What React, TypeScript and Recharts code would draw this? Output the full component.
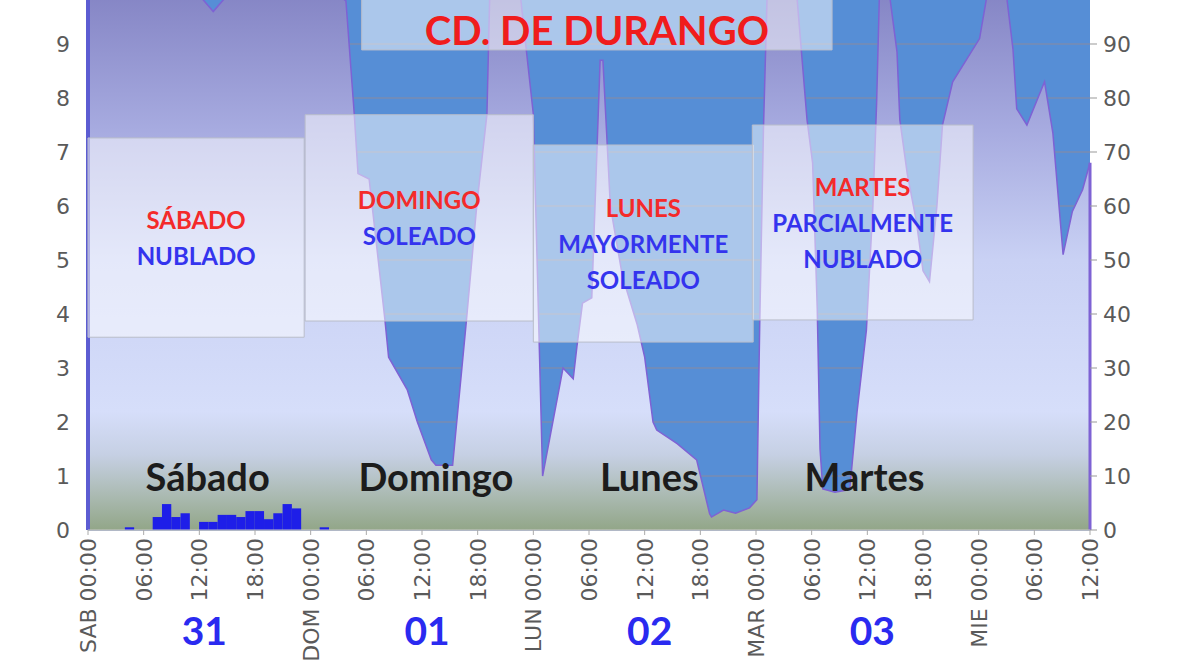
import React from 'react';
import {
  ComposedChart,
  Area,
  Bar,
  XAxis,
  YAxis,
  CartesianGrid,
  ReferenceArea,
  ReferenceDot,
  ReferenceLine,
} from 'recharts';

// Hours since Saturday 00:00
const humidityHours = [
  0, 3, 6, 9, 12, 13.5, 15, 18, 21, 24, 27, 27.8, 28.7, 29.1, 30.3, 32.0, 32.4, 34.4, 35.5, 37.0,
  37.5, 39.3, 40.8, 41.9, 43.0, 43.3, 46.6, 48.0, 49.0, 51.2, 52.3, 52.7, 53.3, 54.3, 55.2, 55.5,
  56.3, 57.6, 59.2, 60.0, 60.9, 61.3, 63.5, 65.6, 67.0, 67.2, 68.5, 69.8, 71.3, 72.1, 72.4, 72.8,
  73.2, 76.4, 77.5, 78.1, 78.6, 78.9, 79.2, 80.5, 82.1, 82.9, 83.9, 84.6, 85.0, 85.3, 86.4, 87.2,
  87.5, 88.3, 89.3, 90.0, 90.7, 91.5, 92.1, 93.2, 96.1, 96.9, 99.0, 99.7, 100.1, 101.2, 103.1,
  104.0, 105.1, 106.1, 107.2, 108,
];
// Relative humidity (%)
const humidityValues = [
  100, 100, 100, 100, 99, 96, 99, 100, 100, 100, 99, 98, 77, 66, 65, 39, 32, 26, 20, 13,
  12, 12, 39, 60, 77, 99, 99, 77, 10, 30, 28, 34, 42, 43, 87, 87,
  60, 47, 38, 32, 20, 18.5, 16, 13, 3, 2.4, 3.7, 3.1, 4.1, 5.6, 38, 74,
  99, 99, 76, 68, 41, 15, 7.6, 7, 7.5, 22, 37, 60, 79, 99, 99, 88.5,
  76, 66, 57, 48, 46, 60, 75, 83, 91, 99, 99, 89, 78, 75, 83,
  73.5, 51, 59, 63, 68,
];

// Precipitation (mm)
const precipHours = [4.5, 7.5, 8.5, 9.5, 10.5, 12.5, 13.5, 14.5, 15.5, 16.5, 17.5, 18.5, 19.5, 20.5, 21.5, 22.5, 25.5];
const precipValues = [0.05, 0.24, 0.48, 0.24, 0.31, 0.15, 0.15, 0.28, 0.28, 0.24, 0.35, 0.35, 0.2, 0.31, 0.48, 0.4, 0.05];

const tickHours = [0, 6, 12, 18, 24, 30, 36, 42, 48, 54, 60, 66, 72, 78, 84, 90, 96, 102, 108];
const dayAbbr = ['SAB', 'DOM', 'LUN', 'MAR', 'MIE'];
const dateLabels = ['31', '01', '02', '03'];
const leftTicks = [0, 1, 2, 3, 4, 5, 6, 7, 8, 9, 10];
const rightTicks = [0, 10, 20, 30, 40, 50, 60, 70, 80, 90, 100];

const dayNames = ['Sábado', 'Domingo', 'Lunes', 'Martes'];
const dayNameHours = [12.9, 37.5, 60.5, 83.7];
const dayNameLevel = 10;

const forecastDays = ['SÁBADO', 'DOMINGO', 'LUNES', 'MARTES'];
const forecastSky = [['NUBLADO'], ['SOLEADO'], ['MAYORMENTE', 'SOLEADO'], ['PARCIALMENTE', 'NUBLADO']];
const boxStartHours = [0, 23.4, 48, 71.6];
const boxEndHours = [23.3, 48, 71.7, 95.4];
const boxLowHumidity = [35.7, 38.7, 34.8, 38.9];
const boxHighHumidity = [72.6, 76.9, 71.3, 75];

const title = 'CD. DE DURANGO';
const titleBox = [29.5, 80.2, 88.9, 100];

const data = [
  ...humidityHours.map((h, i) => ({ h, hum: humidityValues[i] })),
  ...precipHours.map((h, i) => ({ h, rain: precipValues[i] })),
].sort((a, b) => a.h - b.h);

const RED = '#f42a2a';
const BLUE_TXT = '#3434ee';
const TICK_FONT = 22;

const TimeTick = (props: any) => {
  const { x, y, payload } = props;
  const h = payload.value as number;
  const hh = h % 24;
  const label = hh === 0 ? `${dayAbbr[h / 24]} 00:00` : `${String(hh).padStart(2, '0')}:00`;
  const dayIdx = Math.floor(h / 24);
  return (
    <g>
      <text
        x={x}
        y={y}
        dy="0.36em"
        transform={`rotate(-90 ${x} ${y})`}
        textAnchor="end"
        fontSize={TICK_FONT}
        fontFamily="DejaVu Sans"
        fill="#5a5a5a"
      >
        {label}
      </text>
      {hh === 12 && dateLabels[dayIdx] !== undefined && (
        <text
          x={x + 5}
          y={y + 92}
          textAnchor="middle"
          dominantBaseline="central"
          fontSize={39}
          fontWeight={700}
          fontFamily="Lato"
          fill="#2a2af0"
        >
          {dateLabels[dayIdx]}
        </text>
      )}
    </g>
  );
};

const RainBar = (props: any) => {
  const { x, y, width, height, fill } = props;
  if (!height || height <= 0) return null;
  const w = 9.3;
  return <rect x={x + width / 2 - w / 2} y={y} width={w} height={height} fill={fill} />;
};

const boxLabel = (idx: number) => (props: any) => {
  const vb = props.viewBox || {};
  const cx = vb.x + vb.width / 2;
  const cy = vb.y + vb.height / 2;
  const lines = [{ t: forecastDays[idx], c: RED }, ...forecastSky[idx].map((t) => ({ t, c: BLUE_TXT }))];
  const n = lines.length;
  return (
    <g>
      {lines.map((l, i) => (
        <text
          key={i}
          x={cx}
          y={cy + (i - (n - 1) / 2) * 36}
          textAnchor="middle"
          dominantBaseline="central"
          fontSize={24}
          fontWeight={700}
          fontFamily="Lato"
          fill={l.c}
        >
          {l.t}
        </text>
      ))}
    </g>
  );
};

const titleLabel = (props: any) => {
  const vb = props.viewBox || {};
  return (
    <text
      x={vb.x + vb.width / 2}
      y={vb.y + vb.height - 20}
      textAnchor="middle"
      dominantBaseline="central"
      fontSize={40}
      fontWeight={700}
      fontFamily="Lato"
      fill="#f01c1c"
    >
      {title}
    </text>
  );
};

const dayLabel = (idx: number) => (props: any) => {
  const vb = props.viewBox || {};
  return (
    <text
      x={vb.x + (vb.width || 0) / 2}
      y={vb.y + (vb.height || 0) / 2}
      textAnchor="middle"
      dominantBaseline="central"
      fontSize={38}
      fontWeight={700}
      fontFamily="Lato"
      fill="#1c1c1c"
    >
      {dayNames[idx]}
    </text>
  );
};

export default function App() {
  const lastI = humidityHours.length - 1;
  return (
    <div
      style={{
        position: 'fixed',
        left: 0,
        top: 0,
        width: 1200,
        height: 672,
        overflow: 'hidden',
        background: '#ffffff',
      }}
    >
      <div style={{ position: 'absolute', left: 0, top: -30 }}>
        <ComposedChart width={1200} height={700} data={data} margin={{ top: 20, right: 0, bottom: 0, left: 0 }}>
          <defs>
            <linearGradient id="humGrad" x1="0" y1="0" x2="0" y2="1">
              <stop offset="0%" stopColor="#8484c4" />
              <stop offset="26%" stopColor="#a7abe0" />
              <stop offset="50%" stopColor="#c9d1f4" />
              <stop offset="78%" stopColor="#d6defa" />
              <stop offset="86%" stopColor="#c6d0e4" />
              <stop offset="93%" stopColor="#adbcb6" />
              <stop offset="100%" stopColor="#92a688" />
            </linearGradient>
          </defs>
          <CartesianGrid
            yAxisId="right"
            vertical={false}
            fill="#568ed6"
            fillOpacity={1}
            stroke="#7a8bb0"
            strokeWidth={1.5}
          />
          <XAxis
            dataKey="h"
            type="number"
            domain={[0, 108]}
            ticks={tickHours}
            interval={0}
            height={140}
            tick={<TimeTick />}
            tickSize={5}
            tickMargin={3}
            tickLine={{ stroke: '#aaaaaa' }}
            axisLine={{ stroke: '#c8c8c8' }}
            allowDataOverflow
          />
          <YAxis
            yAxisId="left"
            domain={[0, 10]}
            ticks={leftTicks}
            interval={0}
            width={88}
            axisLine={false}
            tickLine={false}
            tickSize={0}
            tickMargin={18}
            tick={{ fontSize: TICK_FONT, fill: '#5a5a5a', fontFamily: 'DejaVu Sans' }}
          />
          <YAxis
            yAxisId="right"
            orientation="right"
            domain={[0, 100]}
            ticks={rightTicks}
            interval={0}
            width={110}
            axisLine={false}
            tickLine={{ stroke: '#999999' }}
            tickSize={7}
            tickMargin={6}
            tick={{ fontSize: TICK_FONT, fill: '#5a5a5a', fontFamily: 'DejaVu Sans' }}
          />
          <Area
            yAxisId="right"
            dataKey="hum"
            type="linear"
            connectNulls
            stroke="#7e62d4"
            strokeWidth={1.5}
            fill="url(#humGrad)"
            fillOpacity={1}
            dot={false}
            activeDot={false}
            isAnimationActive={false}
          />
          <Bar
            yAxisId="left"
            dataKey="rain"
            fill="#1e1ee8"
            shape={<RainBar />}
            isAnimationActive={false}
          />
          <ReferenceLine
            yAxisId="right"
            segment={[
              { x: humidityHours[0], y: 0 },
              { x: humidityHours[0], y: humidityValues[0] },
            ]}
            stroke="#5c5cd2"
            strokeWidth={4}
          />
          <ReferenceLine
            yAxisId="right"
            segment={[
              { x: humidityHours[lastI], y: 0 },
              { x: humidityHours[lastI], y: humidityValues[lastI] },
            ]}
            stroke="#7e62d4"
            strokeWidth={3}
          />
          {boxStartHours.map((x1, i) => (
            <ReferenceArea
              key={`box${i}`}
              yAxisId="right"
              x1={x1}
              x2={boxEndHours[i]}
              y1={boxLowHumidity[i]}
              y2={boxHighHumidity[i]}
              fill="#ffffff"
              fillOpacity={0.5}
              stroke="#b9bdca"
              strokeWidth={1}
              label={boxLabel(i)}
              zIndex={800}
            />
          ))}
          <ReferenceArea
            yAxisId="right"
            x1={titleBox[0]}
            x2={titleBox[1]}
            y1={titleBox[2]}
            y2={titleBox[3]}
            fill="#ffffff"
            fillOpacity={0.5}
            stroke="#b9bdca"
            strokeWidth={1}
            label={titleLabel}
            zIndex={800}
          />
          {dayNameHours.map((h, i) => (
            <ReferenceDot
              key={`day${i}`}
              yAxisId="right"
              x={h}
              y={dayNameLevel * 1}
              r={0}
              fill="none"
              stroke="none"
              label={dayLabel(i)}
              zIndex={900}
            />
          ))}
        </ComposedChart>
      </div>
    </div>
  );
}
